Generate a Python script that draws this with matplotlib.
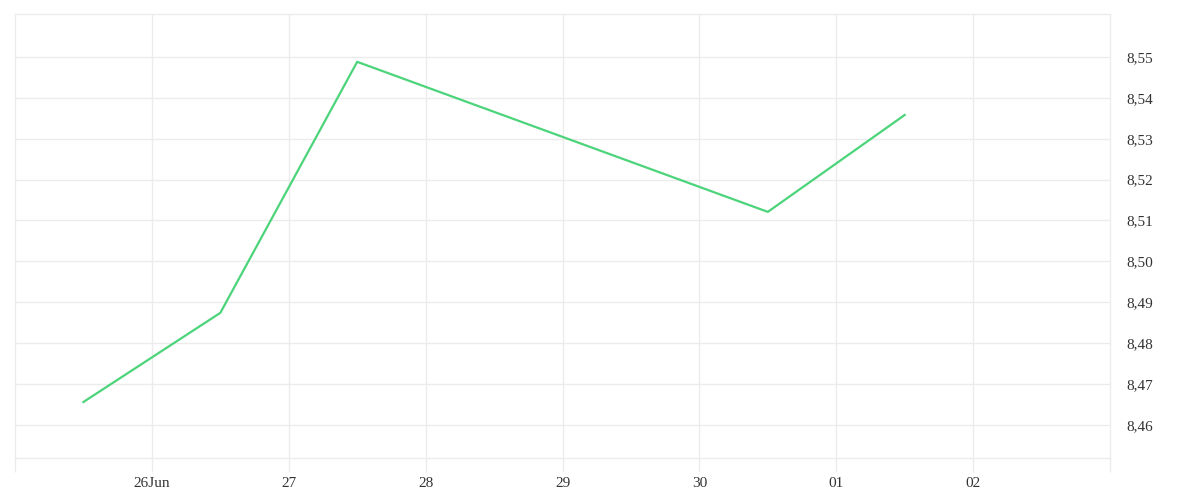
import pandas as pd
import matplotlib.pyplot as plt
from matplotlib.ticker import FuncFormatter

dates = pd.to_datetime(['2023-06-25 12:00', '2023-06-26 12:00', '2023-06-27 12:00',
                        '2023-06-30 12:00', '2023-07-01 12:00'])
values = [8.4656, 8.4874, 8.5488, 8.5121, 8.5358]

tick_dates = pd.date_range('2023-06-26', '2023-07-02', freq='D')
tick_labels = ['26Jun', '27', '28', '29', '30', '01', '02']
y_ticks = [8.46, 8.47, 8.48, 8.49, 8.50, 8.51, 8.52, 8.53, 8.54, 8.55]

x_start = pd.Timestamp('2023-06-25')
x_end = pd.Timestamp('2023-07-03')

grid_col = '#ececec'
text_col = '#333333'

fig = plt.figure(figsize=(12, 5), dpi=100)
ax = fig.add_axes([15 / 1200, 42 / 500, 1095 / 1200, 444 / 500])

ax.plot(dates, values, color='#4cd47a', linewidth=1.6, zorder=3)

ax.set_xlim(x_start, x_end)
ax.set_ylim(8.4519, 8.5605)

ax.set_xticks(tick_dates)
ax.set_xticklabels(tick_labels)
# edge ticks, no labels
ax.set_xticks([x_start, x_end], minor=True)
ax.set_yticks(y_ticks)
ax.yaxis.set_major_formatter(FuncFormatter(lambda v, p: f'{v:.2f}'.replace('.', ',')))
ax.yaxis.tick_right()

ax.grid(True, color=grid_col, linewidth=1)
for s in ax.spines.values():
    s.set_color(grid_col)
    s.set_linewidth(1)

ax.tick_params(axis='x', which='both', length=10, color=grid_col, width=1)
ax.tick_params(axis='x', pad=4, labelsize=11, labelcolor=text_col)
ax.tick_params(axis='y', length=0, pad=12, labelsize=11, labelcolor=text_col)
for lbl in ax.get_xticklabels() + ax.get_yticklabels():
    lbl.set_fontfamily('Liberation Serif')

fig.savefig('out.png', dpi=100, facecolor='white')
